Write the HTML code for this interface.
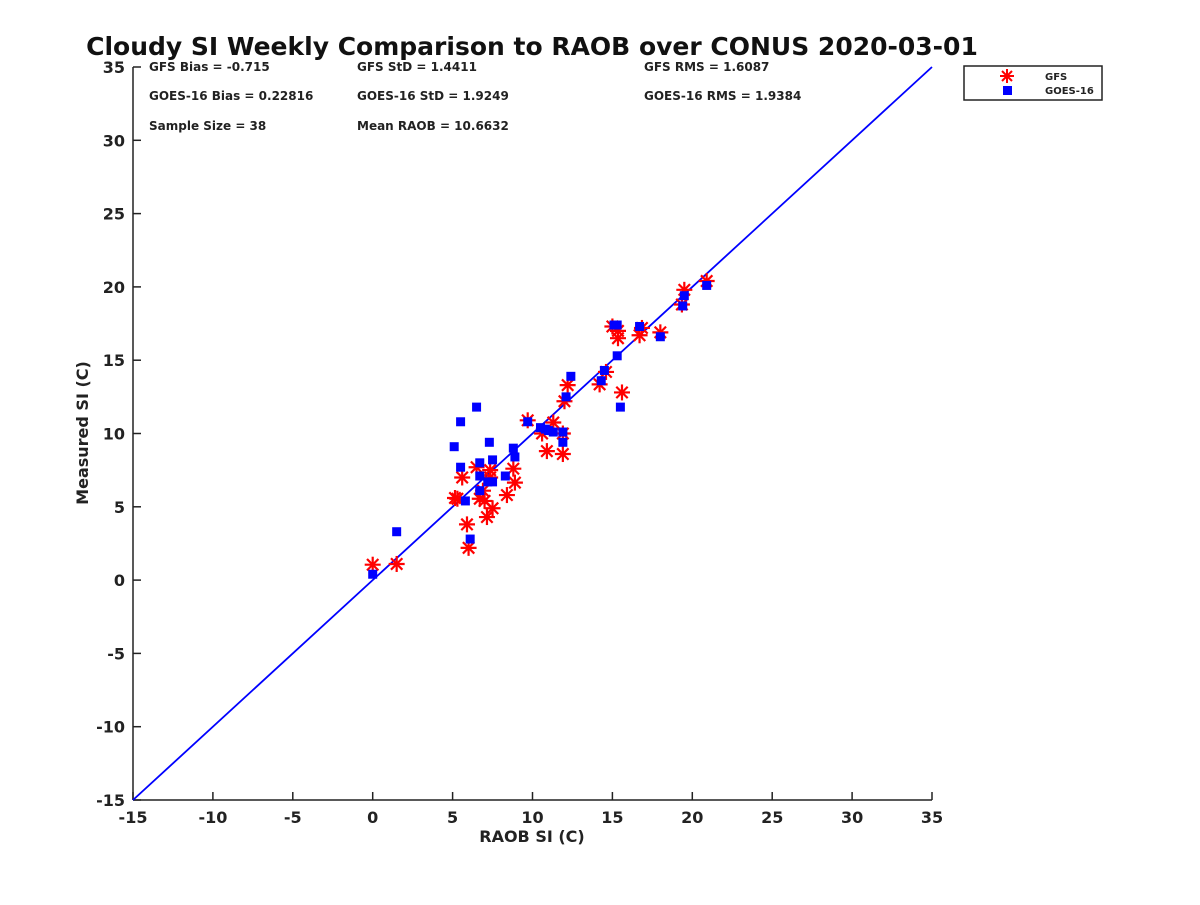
<!DOCTYPE html>
<html><head><meta charset="utf-8"><style>
html,body{margin:0;padding:0;background:#fff;}
svg text{font-family:"DejaVu Sans","Liberation Sans",sans-serif;font-weight:bold;fill:#222;}
</style></head><body>
<svg id="chart" width="1200" height="900" xmlns="http://www.w3.org/2000/svg">
<rect width="1200" height="900" fill="#fff"/>
<text x="532" y="55" text-anchor="middle" font-size="25" style="fill:#111">Cloudy SI Weekly Comparison to RAOB over CONUS 2020-03-01</text>
<g font-size="12">
<text x="149" y="71">GFS Bias = -0.715</text>
<text x="357" y="71">GFS StD = 1.4411</text>
<text x="644" y="71">GFS RMS = 1.6087</text>
<text x="149" y="100">GOES-16 Bias = 0.22816</text>
<text x="357" y="100">GOES-16 StD = 1.9249</text>
<text x="644" y="100">GOES-16 RMS = 1.9384</text>
<text x="149" y="130">Sample Size = 38</text>
<text x="357" y="130">Mean RAOB = 10.6632</text>
</g>
<g id="axes"></g>
<g id="marks"></g>
<text x="532" y="842" text-anchor="middle" font-size="16">RAOB SI (C)</text>
<text transform="translate(88,433) rotate(-90)" text-anchor="middle" font-size="16">Measured SI (C)</text>
<g>
<rect x="964" y="66" width="138" height="34" fill="#fff" stroke="#222" stroke-width="1.5"/>
<g>
<g stroke="red" stroke-width="2"><line x1="1007" y1="69" x2="1007" y2="83"/><line x1="1000" y1="76" x2="1014" y2="76"/><line x1="1002" y1="71" x2="1012" y2="81"/><line x1="1002" y1="81" x2="1012" y2="71"/></g>
<text x="1045" y="80" font-size="10">GFS</text></g>
<g>
<rect x="1003" y="86" width="9" height="9" fill="#0000ff"/>
<text x="1045" y="94" font-size="10">GOES-16</text></g>
</g>
</svg>
<script>
const xTicks=[-15,-10,-5,0,5,10,15,20,25,30,35];
const yTicks=[-15,-10,-5,0,5,10,15,20,25,30,35];
const gfsX=[0.0,1.5,5.15,5.3,5.6,5.9,6.0,6.5,6.7,6.9,7.0,7.15,7.5,7.35,7.35,8.4,8.8,8.9,9.7,10.6,10.9,11.3,11.9,11.9,12.0,12.2,14.2,14.6,15.0,15.35,15.35,15.6,16.7,16.85,18.0,19.35,19.5,20.9];
const gfsY=[1.05,1.1,5.6,5.55,7.0,3.8,2.2,7.7,5.55,6.1,5.4,4.3,4.9,7.0,7.5,5.8,7.6,6.65,10.9,10.0,8.8,10.75,8.6,10.0,12.2,13.3,13.35,14.2,17.3,16.5,17.0,12.8,16.7,17.2,16.9,18.8,19.8,20.4];
const goesX=[0.0,1.5,5.1,5.5,5.5,5.8,6.1,6.5,6.7,6.7,6.7,7.3,7.5,7.2,7.5,8.3,8.8,8.9,9.7,10.5,10.8,11.0,11.3,11.9,11.9,12.1,12.4,14.3,14.5,15.1,15.3,15.3,15.5,16.7,18.0,19.4,19.5,20.9];
const goesY=[0.4,3.3,9.1,10.8,7.7,5.4,2.8,11.8,8.0,7.1,6.1,9.4,8.2,6.7,6.7,7.1,9.0,8.4,10.8,10.4,10.3,10.2,10.1,10.1,9.4,12.5,13.9,13.6,14.3,17.4,17.4,15.3,11.8,17.3,16.6,18.7,19.4,20.1];
const X0=133,X1=932,Y0=800,Y1=67;
const sx=v=>X0+(v+15)/50*(X1-X0);
const sy=v=>Y0-(v+15)/50*(Y0-Y1);
const NS="http://www.w3.org/2000/svg";
function mk(tag,attrs,parent){const e=document.createElementNS(NS,tag);for(const k in attrs)e.setAttribute(k,attrs[k]);parent.appendChild(e);return e;}
const axes=document.getElementById('axes'),marks=document.getElementById('marks');
const xa=mk('line',{x1:X0,y1:Y0,x2:X1,y2:Y0,stroke:'#222','stroke-width':1.5},axes);


const ya=mk('line',{x1:X0,y1:Y0,x2:X0,y2:Y1,stroke:'#222','stroke-width':1.5},axes);


xTicks.forEach(t=>{mk('line',{x1:sx(t),y1:Y0,x2:sx(t),y2:Y0-8,stroke:'#222','stroke-width':1.5},axes);
const tx=mk('text',{x:sx(t),y:Y0+23,'text-anchor':'middle','font-size':16},axes);tx.textContent=t;

});
yTicks.forEach(t=>{mk('line',{x1:X0,y1:sy(t),x2:X0+8,y2:sy(t),stroke:'#222','stroke-width':1.5},axes);
const tx=mk('text',{x:X0-8,y:sy(t)+6,'text-anchor':'end','font-size':16},axes);tx.textContent=t;

});
const ref=mk('line',{x1:sx(-15),y1:sy(-15),x2:sx(35),y2:sy(35),stroke:'#0000ff','stroke-width':1.8},marks);


gfsX.forEach((v,i)=>{const cx=sx(v),cy=sy(gfsY[i]);const g=mk('g',{stroke:'red','stroke-width':2.2},marks);


const r=8,d=5.7;
mk('line',{x1:cx,y1:cy-r,x2:cx,y2:cy+r},g);mk('line',{x1:cx-r,y1:cy,x2:cx+r,y2:cy},g);
mk('line',{x1:cx-d,y1:cy-d,x2:cx+d,y2:cy+d},g);mk('line',{x1:cx-d,y1:cy+d,x2:cx+d,y2:cy-d},g);});
goesX.forEach((v,i)=>{const r=mk('rect',{x:sx(v)-4.5,y:sy(goesY[i])-4.5,width:9,height:9,fill:'#0000ff'},marks);

});
</script>
</body></html>
